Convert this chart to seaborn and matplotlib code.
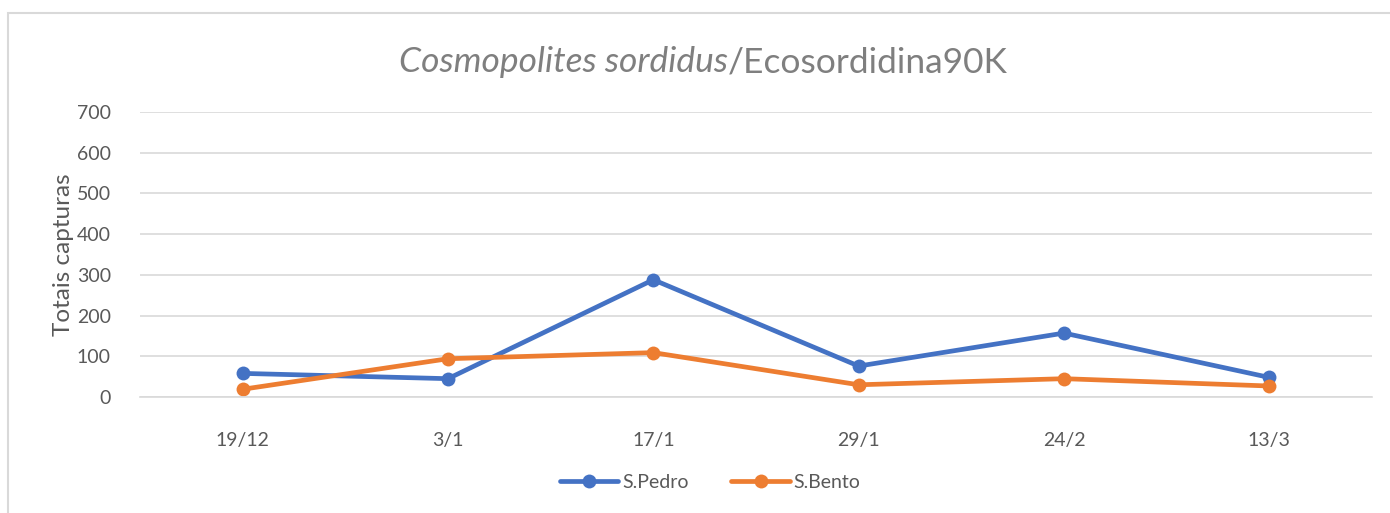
import matplotlib
matplotlib.use("Agg")
import matplotlib.pyplot as plt
import seaborn as sns
import pandas as pd
from matplotlib.patches import Rectangle

# data
dates = ["19/12", "3/1", "17/1", "29/1", "24/2", "13/3"]
s_pedro = [58, 45, 288, 76, 157, 48]
s_bento = [19, 94, 109, 30, 45, 27]
series_names = ["S.Pedro", "S.Bento"]
colors = ["#4472C4", "#ED7D31"]

df = pd.DataFrame({
    "data": dates * 2,
    "capturas": s_pedro + s_bento,
    "local": [series_names[0]] * len(dates) + [series_names[1]] * len(dates),
})

sns.set_theme(style="white")
plt.rcParams["font.family"] = ["Lato", "DejaVu Sans"]

fig = plt.figure(figsize=(13.9, 5.13), dpi=100)
ax = fig.add_axes([140 / 1390, 1 - 397 / 513, 1232 / 1390, 285 / 513])

sns.lineplot(data=df, x="data", y="capturas", hue="local", palette=colors,
             marker="o", markersize=10, markeredgewidth=0, linewidth=3.4,
             sort=False, ax=ax, legend=False)

ax.set_xlim(-0.5, len(dates) - 0.5)
ax.set_ylim(0, 700)
ax.set_yticks(range(0, 701, 100))
ax.yaxis.grid(True, color="#d9d9d9", linewidth=1.2)
ax.set_axisbelow(True)
for side in ["left", "right", "top"]:
    ax.spines[side].set_visible(False)
ax.spines["bottom"].set_color("#d9d9d9")
ax.spines["bottom"].set_linewidth(1.2)
ax.tick_params(axis="both", length=0, labelsize=14, colors="#595959")
ax.tick_params(axis="x", pad=25)
ax.tick_params(axis="y", pad=21)
ax.set_xlabel("")
ax.set_ylabel("Totais capturas", fontsize=17.5, color="#595959", labelpad=2)

# title: italic species name + regular product name
fig.canvas.draw()
r = fig.canvas.get_renderer()
t1 = fig.text(0, 0, "Cosmopolites sordidus", fontsize=25.5, style="italic", color="#7f7f7f")
t2 = fig.text(0, 0, "/Ecosordidina90K", fontsize=25.5, color="#7f7f7f")
w1 = t1.get_window_extent(r).width / fig.bbox.width
w2 = t2.get_window_extent(r).width / fig.bbox.width
x0 = 703 / 1390 - (w1 + w2) / 2
ty = 1 - 72 / 513
t1.set_position((x0, ty))
t2.set_position((x0 + w1, ty))

# legend
handles = [plt.Line2D([], [], color=c, marker="o", markersize=10, markeredgewidth=0, linewidth=3.4)
           for c in colors]
fig.legend(handles, series_names, loc="center", bbox_to_anchor=(0.511, 1 - 482 / 513),
           ncol=2, frameon=False, fontsize=14, labelcolor="#595959",
           handlelength=3.0, handletextpad=0.2, columnspacing=2.2)

# chart border
fig.patches.append(Rectangle((8 / 1390, -0.05), 1.1, 1 - 13 / 513 + 0.05, transform=fig.transFigure,
                             fill=False, edgecolor="#d9d9d9", linewidth=1.5))

fig.savefig("out.png", dpi=100)
